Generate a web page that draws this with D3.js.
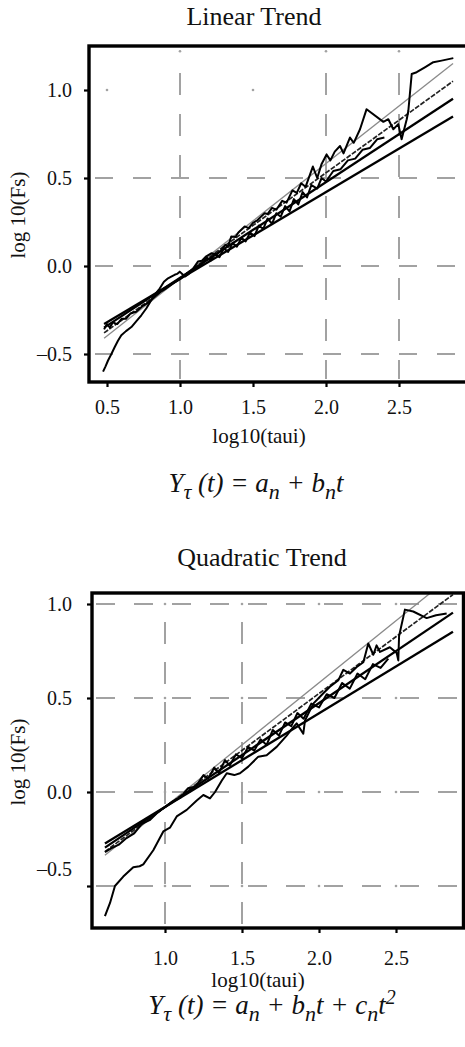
<!DOCTYPE html>
<html>
<head>
<meta charset="utf-8">
<script src="https://cdn.jsdelivr.net/npm/d3@7"></script>
<style>
  body { margin: 0; background: #fff; }
  svg { display: block; }
  svg text { font-family: "Liberation Serif", "Times New Roman", serif; }
</style>
</head>
<body>
<div id="chart"></div>
<script>
// ---- values ----
const linearXTicks = [0.5, 1.0, 1.5, 2.0, 2.5];
const linearYTicks = [-0.5, 0.0, 0.5, 1.0];
const linearHGrid = [0.5, 0.0, -0.5];
const linearVGrid = [1.0, 2.0, 2.5];
const linearGridDots = [[0.5, 1.0], [1.5, 1.0], [1.0, 1.22], [2.0, 1.22], [2.5, 1.22]];

const quadXTicks = [1.0, 1.5, 2.0, 2.5];
const quadYTicks = [-0.5, 0.0, 0.5, 1.0];
const quadHGrid = [1.0, 0.5, 0.0, -0.5];
const quadVGrid = [1.0, 1.5];
const quadDotX = [1.0, 1.5, 2.0, 2.5];

// fitted lines, [start, end] in log10 units (thin grey, dashed, solid, solid)
const linearFits = [
  [[0.48, -0.41], [2.87, 1.15]],
  [[0.48, -0.38], [2.87, 1.05]],
  [[0.48, -0.35], [2.87, 0.95]],
  [[0.48, -0.33], [2.87, 0.85]]
];
const quadFits = [
  [[0.61, -0.337], [2.80, 1.109]],
  [[0.61, -0.317], [2.87, 1.05]],
  [[0.61, -0.296], [2.87, 0.954]],
  [[0.61, -0.274], [2.87, 0.852]]
];

// fluctuation curves
const linearTrace = [
  [0.473,-0.60],[0.49,-0.57],[0.507,-0.537],[0.53,-0.50],[0.553,-0.46],[0.575,-0.425],
  [0.598,-0.394],[0.63,-0.37],[0.667,-0.347],[0.70,-0.315],[0.735,-0.28],[0.77,-0.24],
  [0.803,-0.194],[0.83,-0.16],[0.861,-0.128],[0.89,-0.09],[0.918,-0.07],[0.94,-0.06],
  [0.963,-0.05],[0.98,-0.045],[0.998,-0.032],[1.015,-0.045],[1.035,-0.06],[1.06,-0.045],
  [1.09,-0.015],[1.123,0.025],[1.15,0.03],[1.18,0.055],[1.214,0.072],[1.25,0.065],
  [1.283,0.09],[1.31,0.12],[1.33,0.11],[1.351,0.168],[1.38,0.165],[1.40,0.19],
  [1.443,0.225],[1.47,0.215],[1.5,0.245],[1.53,0.26],[1.557,0.282],[1.58,0.30],
  [1.6,0.295],[1.63,0.33],[1.66,0.32],[1.70,0.37],[1.73,0.36],[1.77,0.43],[1.80,0.415],
  [1.83,0.47],[1.86,0.45],[1.91,0.565],[1.94,0.50],[1.97,0.58],[2.004,0.634],[2.03,0.60],
  [2.06,0.65],[2.096,0.682],[2.12,0.64],[2.164,0.73],[2.19,0.70],[2.233,0.777],
  [2.278,0.891],[2.393,0.819],[2.427,0.834],[2.461,0.777],[2.495,0.806],[2.518,0.72],
  [2.553,0.834],[2.564,0.882],[2.587,1.091],[2.621,1.101],[2.68,1.13],[2.735,1.158],
  [2.792,1.167],[2.872,1.181]
];
const linearTraceB = [
  [0.48,-0.36],[0.50,-0.33],[0.52,-0.35],[0.54,-0.32],[0.57,-0.33],[0.60,-0.30],
  [0.63,-0.30],[0.66,-0.27],[0.70,-0.26],[0.74,-0.23],[0.78,-0.21],[0.82,-0.18],
  [0.86,-0.15],[0.90,-0.13],[0.95,-0.10],[1.0,-0.075],[1.05,-0.04],[1.10,-0.02],
  [1.15,0.01],[1.18,0.05],[1.21,0.03],[1.24,0.07],[1.27,0.05],[1.30,0.10],[1.33,0.08],
  [1.36,0.13],[1.39,0.11],[1.42,0.16],[1.45,0.14],[1.48,0.19],[1.51,0.17],[1.54,0.23],
  [1.57,0.21],[1.6,0.27],[1.63,0.24],[1.66,0.30],[1.69,0.28],[1.72,0.34],[1.75,0.31],
  [1.78,0.38],[1.81,0.35],[1.84,0.42],[1.87,0.39],[1.9,0.46],[1.94,0.44],[1.97,0.50],
  [2.0,0.48],[2.05,0.54],[2.1,0.55],[2.15,0.60],[2.2,0.61],[2.25,0.66],[2.3,0.67],
  [2.35,0.72],[2.4,0.73]
];
const quadTrace = [
  [0.61,-0.66],[0.643,-0.59],[0.675,-0.50],[0.729,-0.45],[0.794,-0.40],[0.835,-0.395],
  [0.859,-0.385],[0.924,-0.31],[0.989,-0.21],[1.032,-0.19],[1.076,-0.13],[1.141,-0.095],
  [1.206,-0.045],[1.249,-0.016],[1.292,-0.034],[1.325,0.0],[1.368,0.06],[1.401,0.10],
  [1.45,0.09],[1.487,0.10],[1.541,0.135],[1.606,0.188],[1.66,0.195],[1.725,0.24],
  [1.79,0.30],[1.833,0.345],[1.855,0.365],[1.898,0.31],[1.909,0.38],[1.963,0.47],
  [2.028,0.525],[2.071,0.56],[2.126,0.595],[2.158,0.65],[2.201,0.63],[2.245,0.665],
  [2.288,0.69],[2.32,0.79],[2.353,0.73],[2.374,0.78],[2.396,0.745],[2.46,0.77],
  [2.504,0.74],[2.515,0.70],[2.52,0.83],[2.558,0.97],[2.612,0.96],[2.699,0.925],
  [2.76,0.94],[2.829,0.95]
];
const quadTraceB = [
  [0.61,-0.32],[0.65,-0.30],[0.70,-0.28],[0.75,-0.245],[0.8,-0.22],[0.85,-0.17],
  [0.9,-0.15],[0.95,-0.11],[1.0,-0.08],[1.05,-0.05],[1.1,-0.03],[1.15,0.02],[1.2,0.03],
  [1.25,0.09],[1.28,0.07],[1.32,0.13],[1.35,0.10],[1.39,0.17],[1.42,0.14],[1.46,0.20],
  [1.5,0.18],[1.54,0.24],[1.58,0.22],[1.62,0.28],[1.66,0.25],[1.7,0.33],[1.74,0.30],
  [1.78,0.37],[1.82,0.35],[1.86,0.42],[1.9,0.39],[1.95,0.47],[2.0,0.45],[2.05,0.52],
  [2.1,0.50],[2.15,0.58],[2.2,0.55],[2.25,0.63],[2.3,0.60],[2.35,0.68],[2.4,0.66],
  [2.45,0.71]
];

// ---- drawing ----
const serif = '"Liberation Serif", "Times New Roman", serif';
const grey = '#a2a2a2';

const fitStyles = [
  { stroke: '#8a8a8a', width: 1.3, dash: null },
  { stroke: '#222', width: 1.7, dash: '5,1.5' },
  { stroke: '#000', width: 2.3, dash: null },
  { stroke: '#000', width: 2.3, dash: null }
];

const svg = d3.select('#chart')
  .append('svg')
  .attr('width', 465)
  .attr('height', 1047)
  .attr('font-family', serif);

const fmt = d3.format('.1f');
const tickFormat = (d) => (d < 0 ? '\u2013' + fmt(-d) : fmt(d));

const drawPanel = (cfg) => {
  const x = d3.scaleLinear().domain(cfg.xDomain).range(cfg.xRange);
  const y = d3.scaleLinear().domain([0, 1]).range(cfg.yRange);
  const box = cfg.box;

  const g = svg.append('g').attr('class', cfg.id);

  g.append('clipPath')
    .attr('id', cfg.id + '-clip')
    .append('rect')
    .attr('x', box.left)
    .attr('y', box.top)
    .attr('width', box.right - box.left)
    .attr('height', box.bottom - box.top);

  // grid
  g.selectAll('.hgrid')
    .data(cfg.hGrid)
    .enter().append('line')
      .attr('class', 'hgrid')
      .attr('x1', box.left + cfg.gridInset)
      .attr('x2', cfg.gridEnd)
      .attr('y1', d => y(d))
      .attr('y2', d => y(d))
      .attr('stroke', grey)
      .attr('stroke-width', 2)
      .attr('stroke-dasharray', cfg.hDash);

  g.selectAll('.vgrid')
    .data(cfg.vGrid)
    .enter().append('line')
      .attr('class', 'vgrid')
      .attr('x1', d => x(d))
      .attr('x2', d => x(d))
      .attr('y1', box.top + cfg.vStart)
      .attr('y2', box.bottom - 3)
      .attr('stroke', grey)
      .attr('stroke-width', 2)
      .attr('stroke-dasharray', cfg.vDash);

  g.selectAll('.gdot')
    .data(cfg.dots)
    .enter().append('circle')
      .attr('class', 'gdot')
      .attr('cx', d => x(d[0]))
      .attr('cy', d => y(d[1]))
      .attr('r', 1.3)
      .attr('fill', grey);

  // fitted lines and traces
  const line = d3.line()
    .x(d => x(d[0]))
    .y(d => y(d[1]));

  const plot = g.append('g').attr('clip-path', 'url(#' + cfg.id + '-clip)');

  plot.selectAll('.fit')
    .data(cfg.fits)
    .enter().append('path')
      .attr('class', 'fit')
      .attr('d', line)
      .attr('fill', 'none')
      .attr('stroke', (d, i) => fitStyles[i].stroke)
      .attr('stroke-width', (d, i) => fitStyles[i].width)
      .attr('stroke-dasharray', (d, i) => fitStyles[i].dash);

  plot.selectAll('.trace')
    .data(cfg.traces)
    .enter().append('path')
      .attr('class', 'trace')
      .attr('d', line)
      .attr('fill', 'none')
      .attr('stroke', '#000')
      .attr('stroke-width', 2)
      .attr('stroke-linejoin', 'round');

  // frame
  g.append('rect')
    .attr('x', box.left)
    .attr('y', box.top)
    .attr('width', box.right - box.left)
    .attr('height', box.bottom - box.top)
    .attr('fill', 'none')
    .attr('stroke', '#000')
    .attr('stroke-width', 3.4);

  // axes
  const xAxis = d3.axisBottom(x)
    .tickValues(cfg.xTicks)
    .tickSize(5)
    .tickPadding(cfg.xPad)
    .tickFormat(fmt);

  const yAxis = d3.axisLeft(y)
    .tickValues(cfg.yTicks)
    .tickSize(5)
    .tickPadding(cfg.yPad)
    .tickFormat(tickFormat);

  const xg = g.append('g')
    .attr('transform', 'translate(0,' + box.bottom + ')')
    .call(xAxis);
  const yg = g.append('g')
    .attr('transform', 'translate(' + box.left + ',0)')
    .call(yAxis);

  [xg, yg].forEach(a => {
    a.attr('font-family', serif).attr('font-size', 20);
    a.select('.domain').remove();
    a.selectAll('line').attr('stroke', '#000').attr('stroke-width', 2.2);
    a.selectAll('text').attr('fill', '#111');
  });

  if (cfg.liftLabel) {
    yg.selectAll('.tick text')
      .filter(d => d === cfg.liftLabel[0])
      .attr('y', -cfg.liftLabel[1]);
  }

  // titles
  g.append('text')
    .attr('x', cfg.title.x)
    .attr('y', cfg.title.y)
    .attr('text-anchor', 'middle')
    .attr('font-size', 26)
    .attr('fill', '#111')
    .text(cfg.title.text);

  g.append('text')
    .attr('x', cfg.xLabel.x)
    .attr('y', cfg.xLabel.y)
    .attr('text-anchor', 'middle')
    .attr('font-size', 21)
    .attr('fill', '#111')
    .text('log10(taui)');

  g.append('text')
    .attr('transform', 'translate(' + cfg.yLabel.x + ',' + cfg.yLabel.y + ') rotate(-90)')
    .attr('text-anchor', 'middle')
    .attr('font-size', 21)
    .attr('fill', '#111')
    .text('log 10(Fs)');

  // formula
  const f = g.append('text')
    .attr('x', cfg.formula.x)
    .attr('y', cfg.formula.y)
    .attr('text-anchor', 'middle')
    .attr('font-style', 'italic')
    .attr('font-size', 27)
    .attr('fill', '#111');

  let shift = 0;
  cfg.formula.parts.forEach(p => {
    const target = p[1] === 'sub' ? 7 : p[1] === 'sup' ? -10 : 0;
    f.append('tspan')
      .attr('dy', target - shift)
      .attr('font-size', p[1] === 'sub' ? 22 : p[1] === 'sup' ? 20 : null)
      .text(p[0]);
    shift = target;
  });
};

drawPanel({
  id: 'linear',
  box: { left: 89, top: 46, right: 468, bottom: 382 },
  xDomain: [0.5, 2.5],
  xRange: [107, 399],
  yRange: [266, 90],
  xTicks: linearXTicks,
  yTicks: linearYTicks,
  hGrid: linearHGrid,
  vGrid: linearVGrid,
  dots: linearGridDots,
  gridInset: 6,
  gridEnd: 458,
  hDash: '18,20',
  vStart: 27,
  vDash: '22,19',
  fits: linearFits,
  traces: [linearTraceB, linearTrace],
  xPad: 13,
  yPad: 12,
  title: { text: 'Linear Trend', x: 254, y: 25 },
  xLabel: { x: 259, y: 443 },
  yLabel: { x: 25, y: 215 },
  formula: {
    x: 256, y: 492,
    parts: [['Y'], ['\u03c4', 'sub'], [' (t) = a'], ['n', 'sub'], [' + b'], ['n', 'sub'], ['t']]
  }
});

drawPanel({
  id: 'quad',
  box: { left: 92, top: 593, right: 463.5, bottom: 928 },
  xDomain: [1.0, 2.5],
  xRange: [165, 396],
  yRange: [792, 604],
  xTicks: quadXTicks,
  yTicks: quadYTicks,
  hGrid: quadHGrid,
  vGrid: quadVGrid,
  dots: quadHGrid.flatMap(h => quadDotX.map(v => [v, h])),
  gridInset: 4,
  gridEnd: 457,
  hDash: '19,19',
  vStart: 29,
  vDash: '22,18',
  fits: quadFits,
  traces: [quadTraceB, quadTrace],
  xPad: 18,
  yPad: 15,
  liftLabel: [-0.5, 17],
  title: { text: 'Quadratic Trend', x: 262, y: 566 },
  xLabel: { x: 258, y: 987 },
  yLabel: { x: 25, y: 762 },
  formula: {
    x: 272, y: 1014,
    parts: [['Y'], ['\u03c4', 'sub'], [' (t) = a'], ['n', 'sub'], [' + b'], ['n', 'sub'], ['t + c'], ['n', 'sub'], ['t'], ['2', 'sup']]
  }
});
</script>
</body>
</html>
